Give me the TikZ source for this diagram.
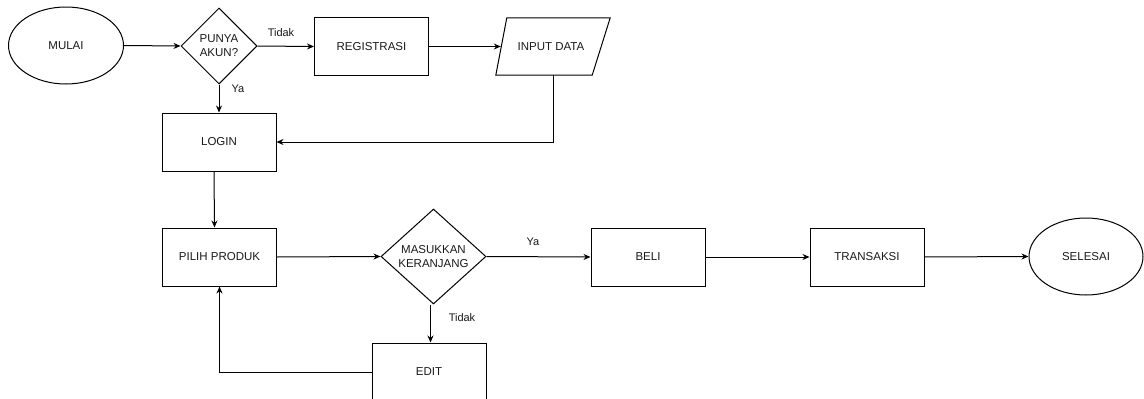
\documentclass[tikz,border=0pt]{standalone}
\usepackage{fontspec}
\setmainfont{Liberation Sans}
\usetikzlibrary{shapes.geometric,arrows.meta}
\begin{document}
\begin{tikzpicture}[x=1pt,y=-1pt,
  every node/.style={font=\fontsize{11.5}{14}\selectfont, text=black!90},
  box/.style={draw, rectangle, minimum width=114pt, minimum height=58pt, inner sep=0pt, line width=1pt},
  oval/.style={draw, ellipse, minimum width=115pt, minimum height=77pt, inner sep=0pt, line width=1pt},
  dec/.style={draw, diamond, align=center, inner sep=0pt, line width=1pt},
  conn/.style={line width=1pt, -{Stealth[length=7pt,width=6pt]}},
  plain/.style={line width=1pt},
  lbl/.style={inner sep=0pt, font=\fontsize{11}{13}\selectfont}]
\useasboundingbox (0,0) rectangle (1144,399);
\clip (0,0) rectangle (1144,399);
% nodes
\node[oval] (mulai) at (66,45.5) {MULAI};
\node[dec, minimum width=76pt, minimum height=76pt] (punya) at (219,46) {PUNYA\\AKUN?};
\node[box] (reg) at (371.5,46.5) {REGISTRASI};
\node[minimum width=100pt, minimum height=57pt, inner sep=0pt] (input) at (551,46.5) {INPUT DATA};
\draw[plain, line join=miter] ([xshift=6pt]input.north west) -- ([xshift=9pt]input.north east)
  -- ([xshift=-9pt]input.south east) -- ([xshift=-5pt]input.south west) -- cycle;
\node[box] (login) at (219,142) {LOGIN};
\node[box] (pilih) at (219.5,257) {PILIH PRODUK};
\node[dec, minimum width=105pt, minimum height=95pt, aspect=1.1] (masuk) at (433.5,256.5) {MASUKKAN\\KERANJANG};
\node[box] (edit) at (429,372) {EDIT};
\node[box] (beli) at (648,257) {BELI};
\node[box] (trans) at (867,257) {TRANSAKSI};
\node[oval, minimum width=114pt] (selesai) at (1086,256.5) {SELESAI};
% labels
\node[lbl] (t1) at (281,33) {Tidak};
\node[lbl] (y1) at (238,89) {Ya};
\node[lbl] (t2) at (462,318) {Tidak};
\node[lbl] (y2) at (533,242) {Ya};
% connectors
\draw[conn] (mulai.east) -- (punya.west);
\draw[conn] (punya.east) -- (reg.west);
\draw[conn] (punya.south) -- (login.north);
\draw[conn] (reg.east) -- (input.west);
\draw[conn] ([xshift=2pt]input.south) |- (login.east);
\draw[conn] ([xshift=-5pt]login.south) -- ([xshift=-5pt]pilih.north);
\draw[conn] (pilih.east) -- (masuk.west);
\draw[conn] ([xshift=-3pt]masuk.south) -- ([xshift=-3pt]masuk.south |- edit.north);
\draw[conn] (edit.west) -| (pilih.south);
\draw[conn] (masuk.east) -- (beli.west);
\draw[conn] (beli.east) -- (trans.west);
\draw[conn] (trans.east) -- (selesai.west);
\end{tikzpicture}
\end{document}
